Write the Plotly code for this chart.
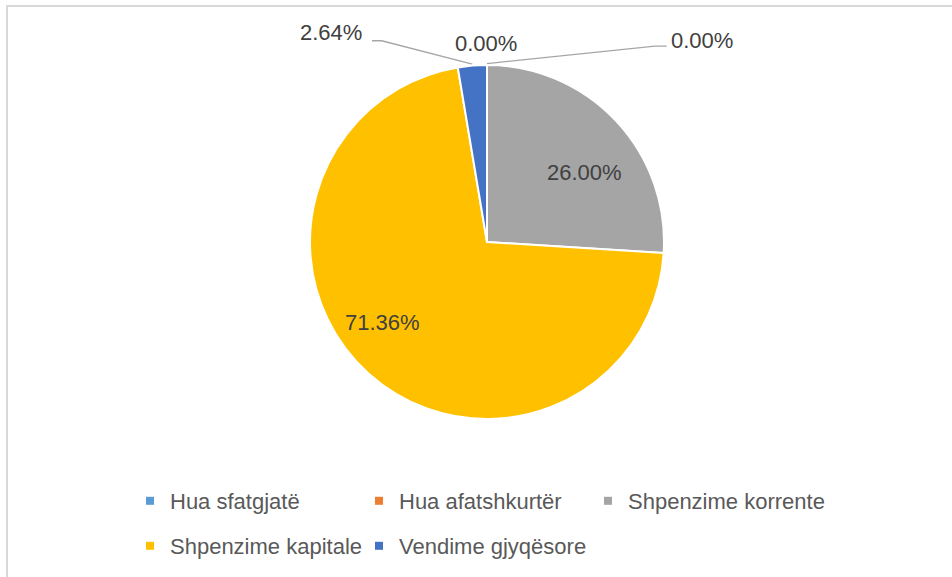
import math
import plotly.graph_objects as go

# ---- data ----
labels = ["Hua sfatgjatë", "Hua afatshkurtër", "Shpenzime korrente",
          "Shpenzime kapitale", "Vendime gjyqësore"]
values = [0.00, 0.00, 26.00, 71.36, 2.64]
colors = ["#5B9BD5", "#ED7D31", "#A5A5A5", "#FFC000", "#4472C4"]
row1 = labels[:3]
row2 = labels[3:]

# ---- layout geometry (pixels) ----
W, H = 952, 577
CX, CY, R = 487, 242, 177  # pie centre and radius, px

FONT = "Liberation Sans"
LBL = "#404040"
LEG = "#595959"
LINE = "#A6A6A6"

total = sum(values)
fmt = [f"{v / total * 100:.2f}%" for v in values]

def px(x):
    return x / W

def py(y):
    return 1 - y / H

fig = go.Figure()
fig.add_trace(go.Pie(
    labels=labels, values=values, sort=False, direction="clockwise",
    rotation=0, hole=0,
    domain=dict(x=[px(CX - R), px(CX + R)], y=[py(CY + R), py(CY - R)]),
    marker=dict(colors=colors, line=dict(color="white", width=2)),
    text=fmt, textinfo="none",
    showlegend=False, hovertemplate="%{label}: %{text}<extra></extra>",
))

# legend entries (two rows, like the original)
for i, lab in enumerate(labels):
    last_in_row = lab in (row1[-1], row2[-1])
    fig.add_trace(go.Scatter(
        x=[None], y=[None], mode="markers", name=lab,
        marker=dict(symbol="square", size=8, color=colors[i]),
        legend="legend" if lab in row1 else "legend2",
        legendwidth=240 if last_in_row else 184,
        hoverinfo="skip",
    ))

# cumulative mid angles (clockwise from 12 o'clock)
cum = 0.0
mids = []
for v in values:
    mids.append((cum + v / 2) / total * 2 * math.pi)
    cum += v

def on_circle(theta):
    return math.sin(theta), math.cos(theta)

# label placement, in pie-radius units relative to the centre
placement = {
    2: dict(lab=(0.548, 0.390), elbow=None, end=None),
    3: dict(lab=(-0.588, -0.452), elbow=None, end=None),
    4: dict(lab=(-0.881, 1.181), elbow=(-0.595, 1.137), end=(-0.650, 1.137)),
    0: dict(lab=(1.212, 1.141), elbow=(0.949, 1.107), end=(1.015, 1.107)),
    1: dict(lab=(-0.006, 1.119), elbow=None, end=None),
}
annotations = []
for idx, o in placement.items():
    if o["elbow"] is not None:
        ax_, ay_ = on_circle(mids[idx])
        fig.add_trace(go.Scatter(
            x=[ax_, o["elbow"][0], o["end"][0]],
            y=[ay_ + 0.008, o["elbow"][1], o["end"][1]],
            mode="lines", line=dict(color=LINE, width=1.3),
            showlegend=False, hoverinfo="skip",
        ))
    annotations.append(dict(
        x=o["lab"][0], y=o["lab"][1], xref="x", yref="y",
        text=fmt[idx], showarrow=False, xanchor="center", yanchor="middle",
        font=dict(family=FONT, size=22, color=LBL),
    ))

legend_common = dict(
    orientation="h", xanchor="left", yanchor="middle",
    entrywidthmode="pixels",
    font=dict(family=FONT, size=22, color=LEG),
    bgcolor="rgba(0,0,0,0)", itemclick=False, itemdoubleclick=False,
)

fig.update_layout(
    width=W, height=H,
    margin=dict(l=0, r=0, t=0, b=0),
    paper_bgcolor="white", plot_bgcolor="rgba(0,0,0,0)",
    font=dict(family=FONT, size=22, color=LEG),
    xaxis=dict(visible=False, range=[-CX / R, (W - CX) / R], fixedrange=True),
    yaxis=dict(visible=False, range=[(CY - H) / R, CY / R], fixedrange=True),
    annotations=annotations,
    legend=dict(x=px(130), y=py(501), **legend_common),
    legend2=dict(x=px(130), y=py(546), **legend_common),
    shapes=[dict(
        type="rect", xref="paper", yref="paper",
        x0=px(7), x1=px(1000), y0=py(6), y1=py(640),
        line=dict(color="#D9D9D9", width=2), fillcolor="rgba(0,0,0,0)",
        layer="below",
    )],
)

fig.write_html(
    "out.html",
    config={"displayModeBar": False},
    post_script="document.body.style.margin='0px';",
)
